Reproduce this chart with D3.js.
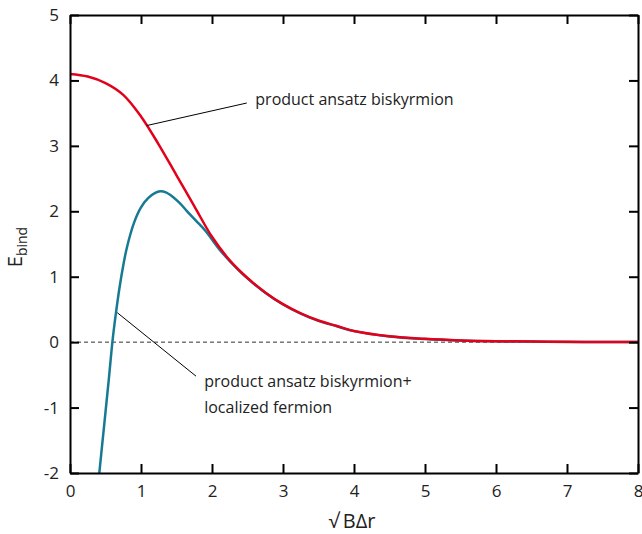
<!DOCTYPE html>
<html>
<head>
<meta charset="utf-8">
<script src="https://cdn.jsdelivr.net/npm/d3@7"></script>
<style>
  body { margin: 0; background: #fff; }
  text { font-family: "Open Sans", sans-serif; fill: #222; }
</style>
</head>
<body>
<div id="chart"></div>
<script>
var svgWidth = 642;
var svgHeight = 534;

var margin = { top: 15, right: 4, bottom: 61, left: 70 };

var width = svgWidth - margin.left - margin.right;
var height = svgHeight - margin.top - margin.bottom;

// product ansatz biskyrmion (red)
var redX = [0, 0.25, 0.5, 0.75, 1.0, 1.25, 1.5, 1.75, 2.0, 2.25, 2.5, 2.75, 3.0, 3.25, 3.5, 3.75, 4.0, 4.5, 5.0, 5.5, 6.0, 6.5, 7.0, 7.5, 8.0];
var redY = [4.10, 4.06, 3.96, 3.78, 3.45, 3.02, 2.55, 2.08, 1.61, 1.25, 0.98, 0.76, 0.58, 0.44, 0.33, 0.25, 0.17, 0.09, 0.05, 0.026, 0.014, 0.008, 0.005, 0.002, 0.001];

// product ansatz biskyrmion + localized fermion (teal)
var tealX = [0.413, 0.45, 0.50, 0.55, 0.60, 0.65, 0.70, 0.75, 0.80, 0.90, 1.0, 1.1, 1.2, 1.27, 1.35, 1.45, 1.55, 1.65, 1.78, 1.9, 2.0, 2.11, 2.25, 2.5, 2.75, 3.0, 3.25, 3.5, 3.75, 4.0, 4.5, 5.0, 5.5, 6.0, 6.5, 7.0, 7.5, 8.0];
var tealY = [-2.0, -1.6, -1.07, -0.53, 0.03, 0.47, 0.85, 1.17, 1.44, 1.82, 2.06, 2.20, 2.28, 2.305, 2.29, 2.22, 2.12, 2.00, 1.85, 1.71, 1.57, 1.41, 1.24, 0.975, 0.755, 0.575, 0.435, 0.325, 0.245, 0.168, 0.088, 0.049, 0.025, 0.013, 0.008, 0.004, 0.002, 0.001];

var xTicks = [0, 1, 2, 3, 4, 5, 6, 7, 8];
var yTicks = [-2, -1, 0, 1, 2, 3, 4, 5];

var svg = d3.select("#chart")
  .append("svg")
  .attr("width", svgWidth)
  .attr("height", svgHeight);

var chartGroup = svg.append("g")
  .attr("transform", `translate(${margin.left}, ${margin.top})`);

var xScale = d3.scaleLinear().domain([0, 8]).range([0, width]);
var yScale = d3.scaleLinear().domain([-2, 5]).range([height, 0]);

// zero line
chartGroup.append("line")
  .attr("x1", xScale(0)).attr("x2", xScale(8))
  .attr("y1", yScale(0)).attr("y2", yScale(0))
  .attr("stroke", "#333")
  .attr("stroke-width", 1)
  .attr("stroke-dasharray", "4,3");

// curves
var line = d3.line()
  .x(d => xScale(d[0]))
  .y(d => yScale(d[1]))
  .curve(d3.curveCatmullRom.alpha(0.5));

chartGroup.append("path")
  .datum(tealX.map((x, i) => [x, tealY[i]]))
  .attr("d", line)
  .attr("fill", "none")
  .attr("stroke", "#177a93")
  .attr("stroke-width", 2.5);

chartGroup.append("path")
  .datum(redX.map((x, i) => [x, redY[i]]))
  .attr("d", line)
  .attr("fill", "none")
  .attr("stroke", "#e3001b")
  .attr("stroke-width", 2.5);

// axes, ticks pointing inward on all four sides
function styleAxis(g) {
  g.select(".domain").attr("stroke", "#000").attr("stroke-width", 2);
  g.selectAll(".tick line").attr("stroke", "#000").attr("stroke-width", 2);
  g.selectAll(".tick text")
    .attr("font-size", 17)
    .attr("font-family", "Open Sans, sans-serif")
    .attr("fill", "#222");
}

var fmt = d => String(d);

chartGroup.append("g")
  .attr("transform", `translate(0, ${height})`)
  .call(d3.axisBottom(xScale).tickValues(xTicks).tickSizeInner(-9).tickSizeOuter(0).tickPadding(12).tickFormat(fmt))
  .call(styleAxis);

chartGroup.append("g")
  .call(d3.axisTop(xScale).tickValues(xTicks).tickSizeInner(-9).tickSizeOuter(0).tickFormat(""))
  .call(styleAxis);

chartGroup.append("g")
  .call(d3.axisLeft(yScale).tickValues(yTicks).tickSizeInner(-9).tickSizeOuter(0).tickPadding(11).tickFormat(fmt))
  .call(styleAxis);

chartGroup.append("g")
  .attr("transform", `translate(${width}, 0)`)
  .call(d3.axisRight(yScale).tickValues(yTicks).tickSizeInner(-9).tickSizeOuter(0).tickFormat(""))
  .call(styleAxis);

// annotations
chartGroup.append("line")
  .attr("x1", xScale(1.08)).attr("y1", yScale(3.31))
  .attr("x2", xScale(2.49)).attr("y2", yScale(3.655))
  .attr("stroke", "#000").attr("stroke-width", 1);

chartGroup.append("text")
  .attr("x", xScale(2.61)).attr("y", yScale(3.62))
  .attr("font-size", 16)
  .text("product ansatz biskyrmion");

chartGroup.append("line")
  .attr("x1", xScale(0.666)).attr("y1", yScale(0.45))
  .attr("x2", xScale(1.775)).attr("y2", yScale(-0.52))
  .attr("stroke", "#000").attr("stroke-width", 1);

chartGroup.append("text")
  .attr("x", xScale(1.89)).attr("y", yScale(-0.69))
  .attr("font-size", 16)
  .text("product ansatz biskyrmion+");

chartGroup.append("text")
  .attr("x", xScale(1.89)).attr("y", yScale(-1.09))
  .attr("font-size", 16)
  .text("localized fermion");

// axis labels
var yLabel = svg.append("text")
  .attr("transform", `translate(22, ${margin.top + height / 2 + 3}) rotate(-90)`)
  .attr("text-anchor", "middle")
  .attr("font-size", 20);
yLabel.append("tspan").text("E");
yLabel.append("tspan").attr("font-size", 14).attr("dy", 5).text("bind");

svg.append("text")
  .attr("x", margin.left + width / 2 - 2)
  .attr("y", 528)
  .attr("text-anchor", "middle")
  .attr("font-size", 20)
  .text("\u221a\u2009B\u0394r");
</script>
</body>
</html>
